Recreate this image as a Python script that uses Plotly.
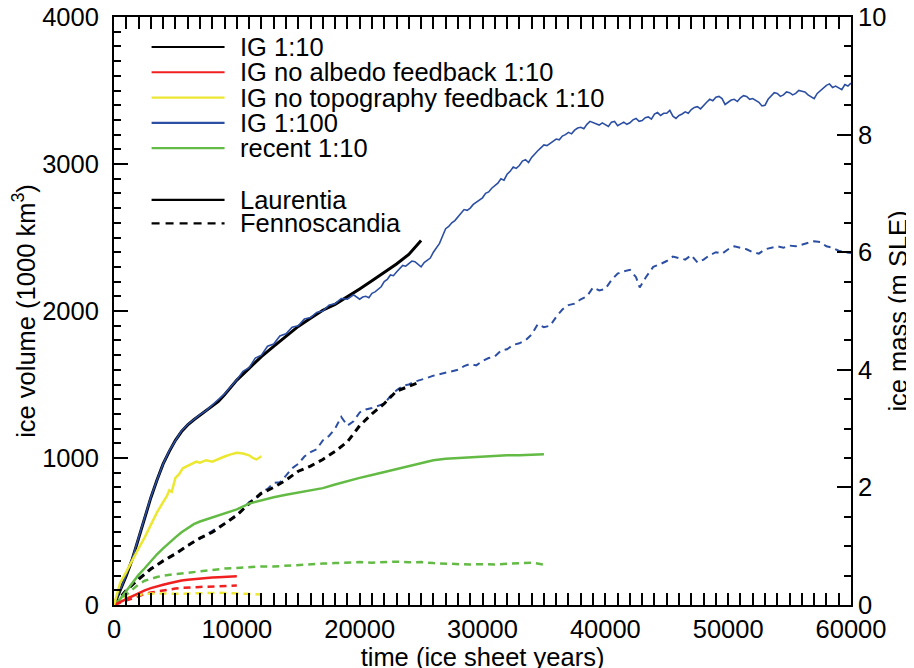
import plotly.graph_objects as go

# ---------------- data ----------------
# IG 1:10, Laurentia (black solid)
t_ig10_l = [0, 500, 1000, 1500, 2000, 2500, 3000, 3500, 4000, 4500, 5000, 5500, 6000, 6500, 7000,
            7500, 8000, 8500, 9000, 9500, 10000, 11000, 12000, 13000, 14000, 15000, 16000, 17000,
            18000, 19000, 20000, 21000, 22000, 23000, 24000, 25000]
v_ig10_l = [0, 95, 200, 315, 450, 600, 730, 850, 960, 1045, 1120, 1180, 1225, 1260, 1290,
            1320, 1355, 1385, 1430, 1480, 1530, 1610, 1690, 1760, 1830, 1895, 1950, 2005,
            2045, 2095, 2150, 2205, 2260, 2320, 2385, 2480]

# IG 1:10, Fennoscandia (black dashed)
t_ig10_f = [0, 1000, 2000, 3000, 4000, 5000, 6000, 7000, 8000, 9000, 10000, 11000, 12000, 13000,
            14000, 15000, 16000, 17000, 18000, 19000, 20000, 21000, 22000, 23000, 24000, 25000]
v_ig10_f = [0, 100, 175, 245, 300, 348, 405, 455, 495, 550, 610, 690, 760, 800,
            850, 910, 945, 990, 1045, 1110, 1220, 1300, 1370, 1455, 1490, 1520]

# IG no albedo feedback 1:10 (red)
t_noalb = [0, 500, 1000, 1500, 2000, 2500, 3000, 3500, 4000, 4500, 5000, 5500, 6000, 6500, 7000,
           7500, 8000, 8500, 9000, 9500, 10000]
v_noalb_l = [0, 20, 45, 65, 85, 100, 115, 128, 138, 148, 158, 166, 172, 177, 181,
             184, 187, 189, 191, 193, 195]
v_noalb_f = [0, 15, 30, 48, 65, 75, 85, 92, 100, 108, 112, 116, 120, 121, 123,
             124, 126, 127, 128, 130, 132]

# IG no topography feedback 1:10 (yellow)
t_notopo_l = [0, 250, 500, 1000, 1500, 2000, 2500, 3000, 3500, 4000, 4300, 4500, 4700, 5000, 5300,
              5600, 6000, 6400, 6700, 7000, 7500, 8000, 8500, 9000, 9500, 10000, 10500, 11000,
              11300, 11600, 12000]
v_notopo_l = [0, 80, 150, 225, 310, 385, 460, 545, 630, 700, 740, 780, 770, 865, 890,
              930, 945, 965, 975, 968, 985, 975, 995, 1010, 1025, 1035, 1030, 1018,
              1000, 990, 1012]
t_notopo_f = [0, 500, 1000, 1500, 2000, 2500, 3000, 3500, 4000, 4500, 5000, 5500, 6000, 6500,
              7000, 7500, 8000, 8500, 9000, 9500, 10000, 10500, 11000, 11500, 12000]
v_notopo_f = [0, 30, 50, 62, 70, 76, 80, 79, 78, 76, 75, 76, 78, 80,
              82, 84, 85, 83, 82, 80, 78, 76, 75, 73, 72]

# IG 1:100 (blue), Laurentia
t_ig100_l = [0, 500, 1000, 1500, 2000, 2500, 3000, 3500, 4000, 4500, 5000, 5500, 6000, 6500, 7000,
             7500, 8000, 8500, 9000, 9500, 10000, 10500, 11000, 11500, 12000, 12500, 13000, 13500,
             14000, 14500, 15000, 15500, 16000, 16500, 17000, 17500, 18000, 18500, 19000, 19500,
             20000, 20250, 20500, 20750, 21000, 21250, 21500, 21750, 22000, 22250, 22500, 22750,
             23000, 23250, 23500, 23750, 24000, 24250, 24500, 24750, 25000, 25250, 25500, 25750,
             26000, 26250, 26500, 26750, 27000, 27250, 27500, 27750, 28000, 28250, 28500, 28750,
             29000, 29250, 29500, 29750, 30000, 30250, 30500, 30750, 31000, 31250, 31500, 31750,
             32000, 32250, 32500, 32750, 33000, 33250, 33500, 33750, 34000, 34250, 34500, 34750,
             35000, 35250, 35500, 35750, 36000, 36250, 36500, 36750, 37000, 37250, 37500, 37750,
             38000, 38250, 38500, 38750, 39000, 39250, 39500, 39750, 40000, 40250, 40500, 40750,
             41000, 41250, 41500, 41750, 42000, 42250, 42500, 42750, 43000, 43250, 43500, 43750,
             44000, 44250, 44500, 44750, 45000, 45250, 45500, 45750, 46000, 46250, 46500, 46750,
             47000, 47250, 47500, 47750, 48000, 48250, 48500, 48750, 49000, 49250, 49500, 49750,
             50000, 50250, 50500, 50750, 51000, 51250, 51500, 51750, 52000, 52250, 52500, 52750,
             53000, 53250, 53500, 53750, 54000, 54250, 54500, 54750, 55000, 55250, 55500, 55750,
             56000, 56250, 56500, 56750, 57000, 57250, 57500, 57750, 58000, 58250, 58500, 58750,
             59000, 59250, 59500, 59750, 60000]
v_ig100_l = [0, 100, 205, 320, 455, 605, 735, 850, 960, 1050, 1122, 1185, 1228, 1262, 1295,
             1322, 1360, 1392, 1436, 1485, 1532, 1590, 1615, 1680, 1700, 1760, 1775, 1830,
             1845, 1890, 1900, 1945, 1955, 1990, 2000, 2040, 2050, 2085, 2080, 2110,
             2080, 2095, 2100, 2090, 2120, 2130, 2150, 2165, 2200, 2215, 2245, 2240,
             2265, 2290, 2310, 2305, 2325, 2340, 2335, 2320, 2300, 2330, 2345, 2360,
             2400, 2430, 2460, 2510, 2560, 2575, 2600, 2615, 2640, 2665, 2690, 2685,
             2700, 2725, 2740, 2750, 2770, 2800, 2810, 2835, 2850, 2870, 2900, 2890,
             2930, 2950, 2980, 2970, 2990, 3020, 3030, 3010, 3045, 3070, 3090, 3110,
             3130, 3125, 3140, 3160, 3170, 3165, 3190, 3200, 3215, 3205, 3230, 3245,
             3250, 3240, 3270, 3290, 3280, 3275, 3265, 3280, 3270, 3255, 3285, 3290,
             3260, 3275, 3285, 3270, 3280, 3300, 3310, 3290, 3295, 3315, 3320, 3305,
             3340, 3350, 3330, 3345, 3345, 3365, 3325, 3310, 3330, 3340, 3355, 3345,
             3370, 3385, 3390, 3375, 3400, 3420, 3440, 3430, 3455, 3460, 3445, 3405,
             3420, 3435, 3440, 3425, 3450, 3465, 3460, 3440, 3445, 3430, 3420, 3395,
             3400, 3440, 3460, 3485, 3480, 3460, 3470, 3490, 3485, 3470, 3480, 3500,
             3495, 3490, 3470, 3455, 3445, 3480, 3500, 3520, 3535, 3545, 3520, 3530,
             3515, 3505, 3540, 3530, 3550]

# IG 1:100 (blue), Fennoscandia
t_ig100_f = [0, 1000, 2000, 3000, 4000, 5000, 6000, 7000, 8000, 9000, 10000, 10500, 11000, 11500,
             12000, 12500, 13000, 13500, 14000, 14500, 15000, 15500, 16000, 16500, 17000, 17500,
             18000, 18500, 19000, 19500, 20000, 20500, 21000, 21500, 22000, 22500, 23000, 23500,
             24000, 24500, 25000, 25500, 26000, 26500, 27000, 27500, 28000, 28500, 29000, 29500,
             30000, 30500, 31000, 31500, 32000, 32500, 33000, 33500, 34000, 34500, 35000, 35500,
             36000, 36500, 37000, 37500, 38000, 38500, 39000, 39500, 40000, 40500, 41000, 41500,
             42000, 42500, 42800, 43300, 43900, 44500, 45000, 45500, 46000, 46500, 47000, 47500,
             48000, 48500, 49000, 49500, 50000, 50500, 51000, 51500, 52000, 52500, 53000, 53500,
             54000, 54500, 55000, 55500, 56000, 56500, 57000, 57500, 58000, 58500, 59000, 59500,
             60000]
v_ig100_f = [0, 105, 180, 250, 300, 350, 405, 450, 500, 555, 615, 650, 700, 720,
             770, 790, 830, 835, 880, 930, 960, 1010, 1040, 1060, 1120, 1150,
             1200, 1280, 1220, 1250, 1310, 1330, 1340, 1355, 1370, 1420, 1460, 1490,
             1500, 1520, 1530, 1545, 1560, 1570, 1580, 1595, 1600, 1625, 1640, 1630,
             1660, 1680, 1690, 1730, 1740, 1770, 1780, 1800, 1840, 1910, 1890, 1900,
             1960, 2010, 2040, 2050, 2080, 2100, 2160, 2140, 2150, 2210, 2255, 2270,
             2280, 2230, 2160, 2230, 2300, 2320, 2340, 2370, 2360, 2350, 2380, 2330,
             2350, 2380, 2400, 2390, 2420, 2440, 2430, 2420, 2400, 2390, 2420, 2430,
             2440, 2430, 2445, 2440, 2450, 2460, 2475, 2470, 2440, 2430, 2410, 2400,
             2395]

# recent 1:10 (green)
t_recent_l = [0, 500, 1000, 1500, 2000, 2500, 3000, 3500, 4000, 4500, 5000, 5500, 6000, 6500, 7000,
              7500, 8000, 8500, 9000, 9500, 10000, 11000, 12000, 13000, 14000, 15000, 16000, 17000,
              18000, 19000, 20000, 21000, 22000, 23000, 24000, 25000, 26000, 27000, 28000, 29000,
              30000, 31000, 32000, 33000, 34000, 35000]
v_recent_l = [0, 40, 95, 150, 205, 250, 300, 345, 385, 425, 460, 495, 525, 550, 568,
              582, 595, 608, 622, 635, 650, 690, 712, 733, 750, 765, 778, 795,
              820, 845, 865, 885, 905, 925, 950, 970, 985, 995, 1000, 1008,
              1012, 1015, 1018, 1018, 1022, 1025]
t_recent_f = [0, 500, 1000, 1500, 2000, 2500, 3000, 3500, 4000, 5000, 6000, 7000, 8000, 9000, 10000,
              11000, 12000, 13000, 14000, 15000, 16000, 17000, 18000, 19000, 20000, 21000, 22000,
              23000, 24000, 25000, 26000, 27000, 28000, 29000, 30000, 31000, 32000, 33000, 34000,
              35000]
v_recent_f = [0, 30, 70, 105, 140, 165, 180, 190, 200, 210, 220, 232, 240, 248, 252,
              258, 262, 262, 268, 272, 278, 282, 285, 290, 292, 288, 290,
              295, 290, 292, 285, 282, 278, 275, 278, 275, 280, 282, 288,
              275]

x_ticks = [0, 10000, 20000, 30000, 40000, 50000, 60000]
y_ticks = [0, 1000, 2000, 3000, 4000]
y2_ticks = [0, 2, 4, 6, 8, 10]

legend_runs = ["IG 1:10", "IG no albedo feedback 1:10", "IG no topography feedback 1:10",
               "IG 1:100", "recent 1:10"]
legend_regions = ["Laurentia", "Fennoscandia"]

# ---------------- styling ----------------
BLACK = "#000000"
RED = "#f02020"
YELLOW = "#ece832"
BLUE = "#2c4fa3"
GREEN = "#63bb45"
DASH = "7px,5px"
FONT = "Liberation Sans, Arial, Helvetica, sans-serif"
FS = 25.5

fig = go.Figure()

def add(t, v, color, width, dash="solid"):
    fig.add_trace(go.Scatter(x=t, y=v, mode="lines", showlegend=False, hoverinfo="skip",
                             line=dict(color=color, width=width, dash=dash)))

# draw order: dashed first, then solid
add(t_ig100_f, v_ig100_f, BLUE, 2, DASH)
add(t_ig10_f, v_ig10_f, BLACK, 3, DASH)
add(t_recent_f, v_recent_f, GREEN, 2.5, DASH)
add(t_noalb, v_noalb_f, RED, 2.5, DASH)
add(t_notopo_f, v_notopo_f, YELLOW, 2.5, DASH)
add(t_ig10_l, v_ig10_l, BLACK, 3)
add(t_ig100_l, v_ig100_l, BLUE, 1.6)
add(t_recent_l, v_recent_l, GREEN, 2.5)
add(t_noalb, v_noalb_l, RED, 2.5)
add(t_notopo_l, v_notopo_l, YELLOW, 2.5)

# invisible trace that activates the right axis
fig.add_trace(go.Scatter(x=[0], y=[0], yaxis="y2", mode="markers", showlegend=False,
                         hoverinfo="skip", marker=dict(opacity=0)))

# ---------------- manual legend ----------------
leg_colors = [BLACK, RED, YELLOW, BLUE, GREEN]
leg_y = [0.949, 0.906, 0.863, 0.820, 0.777]
reg_y = [0.689, 0.649]
lx0, lx1, tx = 0.051, 0.150, 0.1685
for name, col, yy in zip(legend_runs, leg_colors, leg_y):
    fig.add_shape(type="line", xref="paper", yref="paper", x0=lx0, x1=lx1, y0=yy, y1=yy,
                  line=dict(color=col, width=2.2))
    fig.add_annotation(xref="paper", yref="paper", x=tx, y=yy, text=name, showarrow=False,
                       xanchor="left", yanchor="middle", font=dict(family=FONT, size=FS, color="black"))
for name, dsh, yy in zip(legend_regions, ["solid", "8px,6px"], reg_y):
    fig.add_shape(type="line", xref="paper", yref="paper", x0=lx0, x1=lx1, y0=yy, y1=yy,
                  line=dict(color=BLACK, width=2.2, dash=dsh))
    fig.add_annotation(xref="paper", yref="paper", x=tx, y=yy, text=name, showarrow=False,
                       xanchor="left", yanchor="middle", font=dict(family=FONT, size=FS, color="black"))

axis_common = dict(showgrid=False, zeroline=False, linecolor="black", linewidth=2,
                   ticks="inside", tickcolor="black", tickwidth=1.5, automargin=False,
                   ticklabeloverflow="allow",
                   tickfont=dict(family=FONT, size=FS, color="black"))

fig.update_layout(
    width=914, height=668,
    margin=dict(l=106, r=71, t=9, b=71),
    paper_bgcolor="white", plot_bgcolor="white",
    font=dict(family=FONT, size=FS, color="black"),
    xaxis=dict(range=[0, 60000], tickmode="array", tickvals=x_ticks,
               ticktext=[str(v) for v in x_ticks], ticklen=12, mirror="allticks",
               minor=dict(dtick=1000, ticklen=6, ticks="inside", tickcolor="black", tickwidth=1.5),
               title=dict(text="time (ice sheet years)", standoff=0,
                          font=dict(family=FONT, size=FS)),
               ticklabelstandoff=0, **axis_common),
    yaxis=dict(range=[0, 4000], tickmode="array", tickvals=y_ticks,
               ticktext=[str(v) for v in y_ticks], ticklen=14, mirror=True,
               minor=dict(dtick=100, ticklen=7, ticks="inside", tickcolor="black", tickwidth=1.5),
               title=dict(text="ice volume (1000 km<sup>3</sup>)", standoff=3,
                          font=dict(family=FONT, size=FS)),
               ticklabelstandoff=8, **axis_common),
    yaxis2=dict(range=[0, 10], overlaying="y", side="right", tickmode="array",
                tickvals=y2_ticks, ticktext=[str(v) for v in y2_ticks], ticklen=14,
                minor=dict(dtick=0.5, ticklen=7, ticks="inside", tickcolor="black", tickwidth=1.5),
                title=dict(text="ice mass (m SLE)", standoff=4, font=dict(family=FONT, size=FS)),
                ticklabelstandoff=0, **axis_common),
)

fig.write_html("out.html")
